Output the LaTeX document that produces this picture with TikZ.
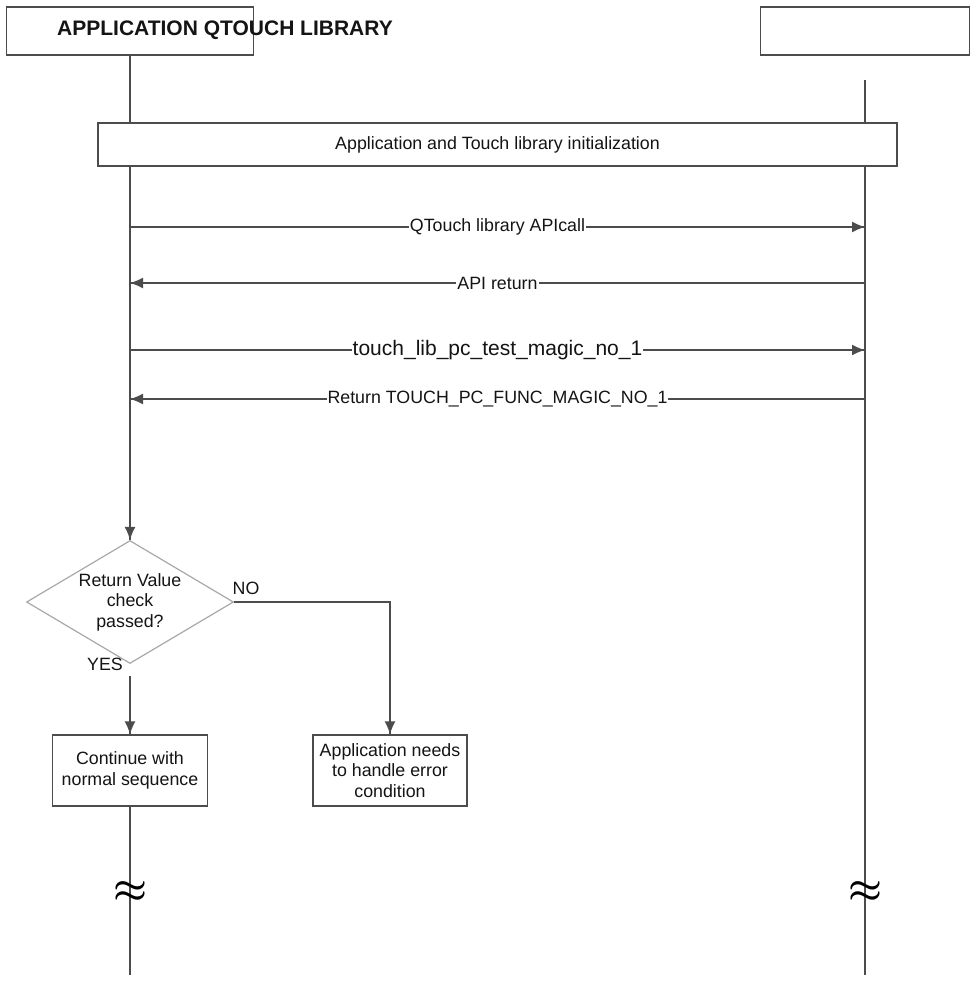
\documentclass[tikz,border=0pt]{standalone}
\usepackage{fontspec}
\setmainfont{Liberation Sans}
\usetikzlibrary{arrows.meta}
\usetikzlibrary{decorations.markings}
\usetikzlibrary{shapes.geometric}
\tikzset{->-/.style = {decoration={markings,
                                   mark=at position #1 with {\arrow{Latex[length=13pt,width=11pt]}}},
                       postaction={decorate}},
         ->-/.default = 1}
\definecolor{mline}{rgb}{0.3, 0.3, 0.3}
\definecolor{mgrey}{rgb}{0.66, 0.66, 0.66}
\definecolor{mtext}{rgb}{0.08, 0.08, 0.08}

\begin{document}
\begin{tikzpicture}[x=1pt, y=-1pt,
    life/.style = {draw=mline, line width=1.4pt},
    box/.style = {rectangle, draw=mline, line width=1.4pt, fill=white, inner sep=0pt,
                  align=center, text=mtext, font=\fontsize{17.8}{20.5}\selectfont},
    msgtxt/.style = {fill=white, inner sep=1pt, text=mtext, font=\fontsize{17.8}{20.5}\selectfont},
    flag/.style = {inner sep=0pt, text=mtext, font=\fontsize{17.8}{20.5}\selectfont},
    brk/.style = {inner sep=0pt, text=black, font=\fontsize{17.8}{20.5}\selectfont}]
  \useasboundingbox (0, 0) rectangle (976, 987);

  % lifeline heads
  \node [box, minimum width=247, minimum height=48] (app) at (130, 31) {};
  \node [text=mtext, font=\fontsize{21}{25}\selectfont\bfseries] (appname) at (225, 30) {APPLICATION QTOUCH LIBRARY};
  \node [box, minimum width=209, minimum height=48] (lib) at (865, 31) {};

  \coordinate (libtop) at (865, 80);
  \coordinate (libend) at (865, 975);
  \coordinate (append) at (130, 975);

  \draw [life] (libtop) -- (libend);
  \node [box, minimum width=799, minimum height=43] (init) at (497.5, 144.5) {Application and Touch library initialization};
  \draw [life] (app.south) -- (app.south |- init.north);

  % messages
  \foreach \n/\y in {1/227, 2/283, 3/350, 4/399} {
    \coordinate (a\n) at (130, \y);
    \coordinate (b\n) at (865, \y);
  }
  \draw [life, ->-] (a1) -- (b1) node [msgtxt, midway] {QTouch library APIcall};
  \draw [life, ->-] (b2) -- (a2) node [msgtxt, midway] {API return};
  \draw [life, ->-] (a3) -- (b3) node [msgtxt, midway, font=\fontsize{21}{25}\selectfont] {touch\_lib\_pc\_test\_magic\_no\_1\hspace{7pt}};
  \draw [life, ->-] (b4) -- (a4) node [msgtxt, midway] {Return TOUCH\_PC\_FUNC\_MAGIC\_NO\_1};

  % return value check
  \node [diamond, draw=mgrey, line width=1.2pt, aspect=1.68, minimum width=207, minimum height=123,
         inner sep=0pt, align=center, text=mtext, font=\fontsize{17.8}{20.5}\selectfont] (check) at (130, 602) {Return Value\\check\\passed?};
  \draw [life, ->-] (app.south |- init.south) -- (check.north);

  \node [box, minimum width=155, minimum height=71] (cont) at (130, 770.5) {Continue with\\normal sequence};
  \node [box, minimum width=154, minimum height=71] (err) at (390, 770.5) {Application needs\\to handle error\\condition};
  \draw [life, ->-, shorten <=12pt] (check.south) -- (cont.north);
  \draw [life, ->-] (check.east) -| (err.north);
  \node [flag] (yes) at (105, 664) {YES};
  \node [flag] (no) at (246, 588) {NO};

  \draw [life] (cont.south) -- (append);
  \node [brk] (appbrk) at (130, 892) {\scalebox{2.2}{\boldmath$\approx$}};
  \node [brk] (libbrk) at (865, 892) {\scalebox{2.2}{\boldmath$\approx$}};
\end{tikzpicture}
\end{document}
